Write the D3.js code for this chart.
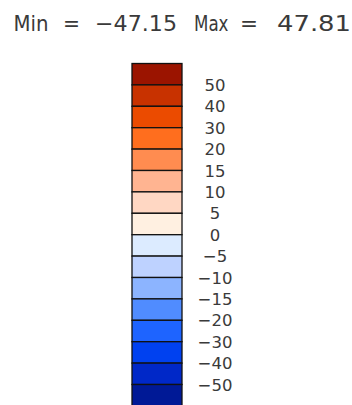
<!DOCTYPE html>
<html><head><meta charset="utf-8">
<script src="https://cdn.jsdelivr.net/npm/d3@7"></script>
<style>html,body{margin:0;padding:0;background:#fff;overflow:hidden}</style>
</head><body>
<script>
const boxColors = ["#9B1400","#C83200","#EB4B00","#FF6E1E","#FF8C50","#FFB491","#FFD7C3","#FFF0E1",
                   "#DCEBFF","#BED2FF","#8CB4FF","#508CFF","#1E64FF","#0041F0","#0028C8","#001996"];
const tickLabels = ["50","40","30","20","15","10","5","0","\u22125","\u221210","\u221215","\u221220","\u221230","\u221240","\u221250"];
const minValue = "\u221247.15";
const maxValue = "47.81";

const W = 352, H = 405;
const svg = d3.select("body").append("svg").attr("width", W).attr("height", H);

// Title
const titleParts = [
  {t:"Min", x:13.5, w:35},
  {t:"=", x:63, w:17},
  {t:minValue, x:95, w:82},
  {t:"Max", x:194, w:34.5},
  {t:"=", x:240, w:18},
  {t:maxValue, x:277, w:74}
];
svg.append("g").selectAll("text").data(titleParts).join("text")
  .attr("x", d => d.x).attr("y", 30.5)
  .attr("textLength", d => d.w).attr("lengthAdjust", "spacingAndGlyphs")
  .attr("font-family", "DejaVu Sans").attr("font-size", 21).attr("fill", "#3a3a3a")
  .text(d => d.t);

// Colorbar
const y = d3.scaleLinear().domain([0, boxColors.length]).range([63.5, 405.9]);
const x0 = 132, x1 = 182;
svg.append("g").selectAll("rect").data(boxColors).join("rect")
  .attr("x", x0).attr("y", (d,i) => y(i)).attr("width", x1 - x0).attr("height", (d,i) => y(i+1) - y(i))
  .attr("fill", d => d).attr("stroke", "#111").attr("stroke-width", 1.3);

svg.append("g").selectAll("text").data(tickLabels).join("text")
  .attr("x", 215).attr("y", (d,i) => y(i+1) + 6)
  .attr("text-anchor", "middle")
  .attr("font-family", "DejaVu Sans").attr("font-size", 16.5).attr("fill", "#3a3a3a")
  .text(d => d);
</script>
</body></html>
